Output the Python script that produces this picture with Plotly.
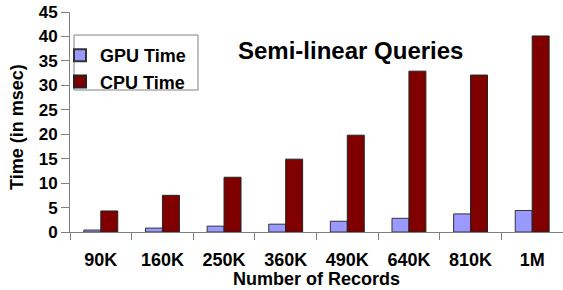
import plotly.graph_objects as go

categories = ["90K", "160K", "250K", "360K", "490K", "640K", "810K", "1M"]
gpu_time = [0.4, 0.8, 1.2, 1.6, 2.2, 2.8, 3.7, 4.4]
cpu_time = [4.3, 7.5, 11.2, 14.9, 19.8, 32.9, 32.1, 40.1]

FONT = "Arial, Liberation Sans, sans-serif"
L, R, T, B = 70, 0, 12, 58
W, H = 563, 290
PW, PH = W - L - R, H - T - B

def px(x):
    return (x - L) / PW

def py(y):
    return (H - B - y) / PH

fig = go.Figure()
fig.add_trace(go.Bar(name="<b>GPU Time</b>", x=categories, y=gpu_time,
                     marker=dict(color="#9999FF", line=dict(color="#333333", width=1))))
fig.add_trace(go.Bar(name="<b>CPU Time</b>", x=categories, y=cpu_time,
                     marker=dict(color="#800000", line=dict(color="#222222", width=1))))

fig.update_layout(
    width=W, height=H,
    margin=dict(l=L, r=R, t=T, b=B, autoexpand=False),
    paper_bgcolor="white", plot_bgcolor="white",
    barmode="group", bargap=0.45, bargroupgap=0,
    font=dict(family=FONT, size=16, color="black"),
    showlegend=True,
    legend=dict(x=px(60), y=py(37), xanchor="left", yanchor="top",
                borderwidth=0, bgcolor="rgba(0,0,0,0)",
                font=dict(family=FONT, size=18, color="black"),
                tracegroupgap=0, itemsizing="constant", itemwidth=30),
    shapes=[dict(type="rect", xref="paper", yref="paper",
                 x0=px(74), x1=px(198), y0=py(35), y1=py(90),
                 line=dict(color="#808080", width=1), fillcolor="white",
                 layer="below")],
    annotations=[
        dict(text="<b>Semi-linear Queries</b>", x=px(350), y=py(50),
             xref="paper", yref="paper", showarrow=False,
             xanchor="center", yanchor="middle",
             font=dict(family=FONT, size=24, color="black")),
        dict(text="<b>Number of Records</b>", x=px(316), y=py(279),
             xref="paper", yref="paper", showarrow=False,
             xanchor="center", yanchor="middle",
             font=dict(family=FONT, size=18, color="black")),
        dict(text="<b>Time (in msec)</b>", x=px(17), y=py(127),
             xref="paper", yref="paper", showarrow=False, textangle=-90,
             xanchor="center", yanchor="middle",
             font=dict(family=FONT, size=18, color="black")),
    ],
)

fig.update_xaxes(
    showline=True, linecolor="#808080", linewidth=1,
    ticks="outside", tickson="boundaries", ticklen=7, tickcolor="#808080",
    tickfont=dict(family=FONT, size=18, color="black"),
    ticklabelstandoff=11, automargin=False,
    tickprefix="<b>", ticksuffix="</b>",
    showgrid=False,
)
fig.update_yaxes(
    range=[0, 45], dtick=5,
    showline=True, linecolor="#808080", linewidth=1,
    ticks="outside", ticklen=8, tickcolor="#808080",
    tickfont=dict(family=FONT, size=17, color="black"),
    tickprefix="<b>", ticksuffix="</b>", automargin=False,
    showgrid=False, zeroline=False,
)

fig.write_html("out.html", config={"displayModeBar": False},
               post_script="document.body.style.margin='0';")
